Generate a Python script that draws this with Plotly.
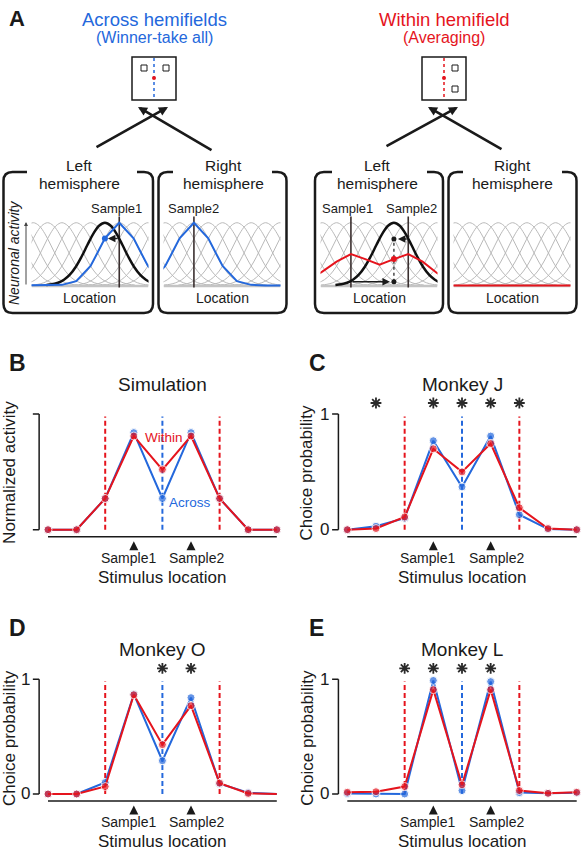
import plotly.graph_objects as go

W, H = 581, 853
FONT = "Liberation Sans, Arial, Helvetica, sans-serif"
BLUE = "#2468dc"
RED = "#e5141d"
DARK = "#1a1a1a"
GRAY = "#b9b9b9"

# ---------------- data: panels B-E ----------------
locations = [1, 2, 3, 4, 5, 6, 7, 8, 9]
sim_across = [0, 0, 0.27, 0.84, 0.27, 0.84, 0.27, 0, 0]
sim_within = [0, 0, 0.27, 0.81, 0.52, 0.81, 0.27, 0, 0]
monkeyJ_across = [0, 0.03, 0.10, 0.77, 0.37, 0.81, 0.13, 0.005, 0]
monkeyJ_within = [0, 0.01, 0.11, 0.70, 0.50, 0.745, 0.19, 0.01, 0]
monkeyO_across = [0, 0, 0.10, 0.87, 0.29, 0.84, 0.09, 0.012, 0]
monkeyO_within = [0, 0, 0.065, 0.865, 0.43, 0.77, 0.095, 0.005, 0]
monkeyL_across = [0.005, 0, 0, 0.99, 0.03, 0.98, 0.012, 0.006, 0.01]
monkeyL_within = [0.015, 0.02, 0.065, 0.91, 0.08, 0.91, 0.03, 0.006, 0.015]
sig_sim = []
sig_J = [2, 4, 5, 6, 7]
sig_O = [5, 6]
sig_L = [3, 4, 5, 6]
sample_locs = [4, 6]
sample_labels = ["Sample1", "Sample2"]
hemifield_borders = [3, 7]
vertical_meridian = [5]

# ---------------- data: panel A schematic ----------------
tuning_offsets = [-0.5, -0.45, -0.4, -0.35, -0.3, -0.25, -0.2, -0.15, -0.1, -0.05, 0,
                  0.05, 0.1, 0.15, 0.2, 0.25, 0.3, 0.35, 0.4, 0.45, 0.5]
tuning_shape = [0.008, 0.019, 0.044, 0.091, 0.172, 0.295, 0.458, 0.644, 0.823, 0.952, 1.0,
                0.952, 0.823, 0.644, 0.458, 0.295, 0.172, 0.091, 0.044, 0.019, 0.008]
tuning_centers = [-0.23, -0.1075, 0.015, 0.1375, 0.26, 0.3825, 0.505, 0.6275,
                  0.75, 0.8725, 0.995, 1.1175, 1.24]
neuron_centers = [-0.1075, 0.015, 0.1375, 0.26, 0.3825, 0.505, 0.6275, 0.75, 0.8725, 0.995, 1.1175]
across_left_resp = [0, 0, 0.001, 0.01, 0.07, 0.31, 0.75, 1.0, 0.75, 0.31, 0.07]
across_right_resp = [0.07, 0.31, 0.75, 1.0, 0.75, 0.31, 0.07, 0.01, 0.001, 0, 0]
within_left_resp = [0.08, 0.22, 0.38, 0.50, 0.42, 0.33, 0.42, 0.50, 0.38, 0.20, 0.08]
within_right_resp = [0, 0, 0, 0, 0, 0, 0, 0, 0, 0, 0]
sample1_pos = 0.26
sample2_pos = 0.75
readout_neuron = 0.6275


def px(x):
    return x / W


def py(y):
    return 1 - y / H


fig = go.Figure()
lay = {}
shapes = []
annos = []


def text(x, y, s, size, color=DARK, xanchor="center", angle=0, xref="paper", yref="paper", bold=False):
    if bold:
        s = "<b>" + s + "</b>"
    annos.append(dict(x=x, y=y, xref=xref, yref=yref, text=s, showarrow=False,
                      xanchor=xanchor, yanchor="middle", textangle=angle,
                      font=dict(family=FONT, size=size, color=color)))


def ptext(x, y, s, size, color=DARK, xanchor="center", angle=0, bold=False):
    text(px(x), py(y), s, size, color, xanchor, angle, bold=bold)


# ---------------- panels B-E ----------------
XR = [0, 9.1]
YR = [-0.25, 1.25]
panels = [
    dict(letter="B", n=1, across=sim_across, within=sim_within, sig=sig_sim, title="Simulation",
         ylabel="Normalized activity", ticks=False, loc1=48.0, step=28.6, y0=529.7, unit=115.6,
         lx=7, ly=363, ylx=10, last=True),
    dict(letter="C", n=2, across=monkeyJ_across, within=monkeyJ_within, sig=sig_J, title="Monkey J",
         ylabel="Choice probability", ticks=True, loc1=347.3, step=28.675, y0=529.7, unit=115.6,
         lx=307, ly=363, ylx=306.7, last=True),
    dict(letter="D", n=3, across=monkeyO_across, within=monkeyO_within, sig=sig_O, title="Monkey O",
         ylabel="Choice probability", ticks=True, loc1=48.0, step=28.6, y0=794.0, unit=114.7,
         lx=7, ly=628, ylx=9.3, last=False),
    dict(letter="E", n=4, across=monkeyL_across, within=monkeyL_within, sig=sig_L, title="Monkey L",
         ylabel="Choice probability", ticks=True, loc1=347.3, step=28.675, y0=794.0, unit=114.7,
         lx=307, ly=628, ylx=308, last=True),
]

for p in panels:
    n = p["n"]
    xs = "" if n == 1 else str(n)
    xl = p["loc1"] - p["step"] * (1 - XR[0])
    xr = p["loc1"] + p["step"] * (XR[1] - 1)
    yb = p["y0"] - p["unit"] * YR[0]
    yt = p["y0"] - p["unit"] * YR[1]
    lay["xaxis" + xs] = dict(domain=[px(xl), px(xr)], range=XR, visible=False, anchor="y" + xs,
                             fixedrange=True)
    lay["yaxis" + xs] = dict(domain=[py(yb), py(yt)], range=YR, visible=False, anchor="x" + xs,
                             fixedrange=True)
    xa, ya = "x" + xs, "y" + xs
    loc5_px = p["loc1"] + 4 * p["step"]
    msize = [8] * 9 if p["last"] else [8] * 8 + [0]
    fig.add_trace(go.Scatter(x=locations, y=p["across"], xaxis=xa, yaxis=ya, mode="lines+markers",
                             line=dict(color=BLUE, width=2), marker=dict(color=BLUE, size=msize),
                             cliponaxis=False))
    fig.add_trace(go.Scatter(x=locations, y=p["within"], xaxis=xa, yaxis=ya, mode="lines+markers",
                             line=dict(color=RED, width=2), marker=dict(color=RED, size=msize),
                             cliponaxis=False))
    # sample arrowheads
    fig.add_trace(go.Scatter(x=sample_locs, y=[-0.10] * len(sample_locs), xaxis=xa, yaxis=ya,
                             mode="markers", marker=dict(symbol="arrow-up", size=9, color=DARK),
                             cliponaxis=False))
    # significance asterisks
    if p["sig"]:
        fig.add_trace(go.Scatter(x=p["sig"], y=[1.096] * len(p["sig"]), xaxis=xa, yaxis=ya,
                                 mode="markers",
                                 marker=dict(symbol="asterisk-open", size=9, color="#2a2a2a",
                                             line=dict(color="#2a2a2a", width=1.8)),
                                 cliponaxis=False))
    # dashed hemifield lines
    for b in hemifield_borders:
        shapes.append(dict(type="line", xref=xa, yref=ya, x0=b, x1=b, y0=0, y1=0.98, layer="below",
                           line=dict(color=RED, width=2, dash="5px,3px")))
    for b in vertical_meridian:
        shapes.append(dict(type="line", xref=xa, yref=ya, x0=b, x1=b, y0=0, y1=0.98, layer="below",
                           line=dict(color=BLUE, width=2, dash="5px,3px")))
    # axes
    shapes.append(dict(type="line", xref=xa, yref=ya, x0=locations[0], x1=locations[-1],
                       y0=-0.06, y1=-0.06, line=dict(color=DARK, width=1.5)))
    yx = 0.69
    shapes.append(dict(type="line", xref=xa, yref=ya, x0=yx, x1=yx, y0=0, y1=1,
                       line=dict(color=DARK, width=1.5)))
    for t in (0, 1):
        shapes.append(dict(type="line", xref=xa, yref=ya, x0=yx - 0.22, x1=yx, y0=t, y1=t,
                           line=dict(color=DARK, width=1.5)))
        if p["ticks"]:
            text(0.43, t, str(t), 17, xanchor="right", xref=xa, yref=ya)
    # texts
    for loc, lab, sh in zip(sample_locs, sample_labels, (-0.19, 0.19)):
        text(loc + sh, -0.245, lab, 14, xref=xa, yref=ya)
    ptext(loc5_px, p["y0"] + 0.41 * p["unit"], "Stimulus location", 17)
    ptext(loc5_px, p["y0"] - 1.26 * p["unit"], p["title"], 19)
    ptext(p["lx"], p["ly"], p["letter"], 23, xanchor="left", bold=True)
    ptext(p["ylx"], p["y0"] - 0.5 * p["unit"] + 1, p["ylabel"], 17, angle=-90)
    if n == 1:
        text(4.33, 0.80, "Within", 13.5, color=RED, xanchor="left", xref=xa, yref=ya)
        text(5.15, 0.235, "Across", 13.5, color=BLUE, xanchor="left", xref=xa, yref=ya)

# ---------------- panel A ----------------
ptext(7, 18, "A", 22, xanchor="left", bold=True)
ptext(154, 19, "Across hemifields", 18.5, color=BLUE)
ptext(154, 37, "(Winner-take all)", 16, color=BLUE)
ptext(444, 19, "Within hemifield", 18.5, color=RED)
ptext(444, 37, "(Averaging)", 16, color=RED)


def prect(x0, y0, x1, y1, color=DARK, width=1.5):
    shapes.append(dict(type="rect", xref="paper", yref="paper", x0=px(x0), x1=px(x1),
                       y0=py(y1), y1=py(y0), line=dict(color=color, width=width)))


# visual field boxes
for cx, color, squares in ((154, BLUE, [(141, 65), (163, 65)]), (444, RED, [(452, 65), (452, 86)])):
    prect(cx - 22, 57, cx + 22, 100, width=1.5)
    shapes.append(dict(type="line", xref="paper", yref="paper", x0=px(cx), x1=px(cx),
                       y0=py(58), y1=py(99), line=dict(color=color, width=1.5, dash="dot")))
    for sx, sy in squares:
        prect(sx, sy, sx + 6, sy + 6, width=1)
    shapes.append(dict(type="circle", xref="paper", yref="paper", x0=px(cx - 2), x1=px(cx + 2),
                       y0=py(80), y1=py(76), fillcolor=RED, line=dict(width=0)))

# crossing arrows
for hx, hy, tx, ty in ((168, 107, 95, 148), (138, 107, 213, 151),
                       (458, 107, 385, 147), (428, 107, 503, 150)):
    annos.append(dict(x=px(hx), y=py(hy), xref="paper", yref="paper", ax=tx - hx, ay=ty - hy,
                      text="", showarrow=True, arrowhead=2, arrowsize=0.7, arrowwidth=2.6,
                      arrowcolor=DARK, standoff=0))


# hemisphere brackets
def box_path(x0, x1, y0, y1, sl, sr, r=9):
    def P(x, y):
        return "%f,%f" % (px(x), py(y))
    return ("M " + P(sl, y0) + " L " + P(x0 + r, y0) + " Q " + P(x0, y0) + " " + P(x0, y0 + r) +
            " L " + P(x0, y1 - r) + " Q " + P(x0, y1) + " " + P(x0 + r, y1) +
            " L " + P(x1 - r, y1) + " Q " + P(x1, y1) + " " + P(x1, y1 - r) +
            " L " + P(x1, y0 + r) + " Q " + P(x1, y0) + " " + P(x1 - r, y0) +
            " L " + P(sr, y0))


for x0, x1, sl, sr in ((3.5, 153, 27, 137), (158.5, 286.5, 173, 272),
                       (315, 443, 332, 427), (448.5, 576.5, 463, 562)):
    shapes.append(dict(type="path", xref="paper", yref="paper", path=box_path(x0, x1, 172, 313, sl, sr),
                       line=dict(color=DARK, width=2.5)))

for cx, word in ((80, "Left"), (223, "Right"), (377, "Left"), (512.5, "Right")):
    ptext(cx, 165, word, 15.5)
    ptext(cx, 183, "hemisphere", 15.5)

for cx in (89, 222, 379, 512):
    ptext(cx, 298, "Location", 14)

ptext(116, 209, "Sample1", 13)
ptext(194, 209, "Sample2", 13)
ptext(347, 209, "Sample1", 13)
ptext(411, 209, "Sample2", 13)

ptext(14, 253, "<i>Neuronal activity</i>", 14, angle=-90)
annos.append(dict(x=px(26), y=py(222), xref="paper", yref="paper", ax=0, ay=64, text="",
                  showarrow=True, arrowhead=2, arrowsize=0.8, arrowwidth=1, arrowcolor="#444444",
                  standoff=0))

# mini population plots
MY0, MUNIT = 285.5, 62.8
MYR = [-0.06, 1.12]
minis = [
    dict(n=5, x0=31.5, x1=148.5, resp=across_left_resp, color=BLUE, samples=[sample2_pos], black=True),
    dict(n=6, x0=163.5, x1=280.5, resp=across_right_resp, color=BLUE, samples=[sample1_pos], black=False),
    dict(n=7, x0=320.5, x1=437.5, resp=within_left_resp, color=RED, samples=[sample1_pos, sample2_pos], black=True),
    dict(n=8, x0=453.5, x1=570.5, resp=within_right_resp, color=RED, samples=[], black=False),
]
for m in minis:
    n = str(m["n"])
    xa, ya = "x" + n, "y" + n
    lay["xaxis" + n] = dict(domain=[px(m["x0"]), px(m["x1"])], range=[0, 1], visible=False,
                            anchor=ya, fixedrange=True)
    lay["yaxis" + n] = dict(domain=[py(MY0 - MUNIT * MYR[0]), py(MY0 - MUNIT * MYR[1])], range=MYR,
                            visible=False, anchor=xa, fixedrange=True)
    for c in tuning_centers:
        fig.add_trace(go.Scatter(x=[c + o for o in tuning_offsets], y=tuning_shape, xaxis=xa, yaxis=ya,
                                 mode="lines", line=dict(color=GRAY, width=1, shape="spline")))
    fig.add_trace(go.Scatter(x=[0, 1], y=[-0.01, -0.01], xaxis=xa, yaxis=ya, mode="lines",
                             line=dict(color="#c4c4c4", width=2.5)))
    for s in m["samples"]:
        fig.add_trace(go.Scatter(x=[s, s], y=[-0.03, 1.1], xaxis=xa, yaxis=ya, mode="lines",
                                 line=dict(color="#3a2f2f", width=1.6)))
    if m["black"]:
        fig.add_trace(go.Scatter(x=[readout_neuron + o for o in tuning_offsets], y=tuning_shape,
                                 xaxis=xa, yaxis=ya, mode="lines",
                                 line=dict(color="#111111", width=2.5, shape="spline")))
    fig.add_trace(go.Scatter(x=neuron_centers, y=m["resp"], xaxis=xa, yaxis=ya, mode="lines",
                             line=dict(color=m["color"], width=2)))
    ridx = neuron_centers.index(readout_neuron)
    if m["n"] == 5:
        fig.add_trace(go.Scatter(x=[readout_neuron], y=[m["resp"][ridx]], xaxis=xa, yaxis=ya,
                                 mode="markers", marker=dict(color=BLUE, size=6), cliponaxis=False))
        annos.append(dict(x=readout_neuron, y=m["resp"][ridx], xref=xa, yref=ya, axref=xa, ayref=ya,
                          ax=sample2_pos, ay=m["resp"][ridx], text="", showarrow=True, arrowhead=2,
                          arrowsize=1, arrowwidth=1.5, arrowcolor=DARK, standoff=3))
    if m["n"] == 7:
        top, bot = 0.74, 0.06
        fig.add_trace(go.Scatter(x=[readout_neuron, readout_neuron], y=[bot, top], xaxis=xa, yaxis=ya,
                                 mode="lines+markers", line=dict(color=DARK, width=1.2, dash="dot"),
                                 marker=dict(color=DARK, size=5), cliponaxis=False))
        fig.add_trace(go.Scatter(x=[readout_neuron], y=[m["resp"][ridx]], xaxis=xa, yaxis=ya,
                                 mode="markers", marker=dict(color=RED, size=6), cliponaxis=False))
        annos.append(dict(x=readout_neuron, y=top, xref=xa, yref=ya, axref=xa, ayref=ya,
                          ax=sample2_pos, ay=top, text="", showarrow=True, arrowhead=2,
                          arrowsize=1, arrowwidth=1.5, arrowcolor=DARK, standoff=4))
        annos.append(dict(x=readout_neuron, y=bot, xref=xa, yref=ya, axref=xa, ayref=ya,
                          ax=sample1_pos, ay=bot, text="", showarrow=True, arrowhead=2,
                          arrowsize=1, arrowwidth=1.5, arrowcolor=DARK, standoff=4))

fig.update_layout(width=W, height=H, margin=dict(l=0, r=0, t=0, b=0), autosize=False,
                  paper_bgcolor="white", plot_bgcolor="rgba(0,0,0,0)", showlegend=False,
                  hovermode=False, shapes=shapes, annotations=annos,
                  font=dict(family=FONT, color=DARK), **lay)
fig.write_html("out.html", config={"displayModeBar": False},
               post_script="document.body.style.margin='0px';document.body.style.padding='0px';")
